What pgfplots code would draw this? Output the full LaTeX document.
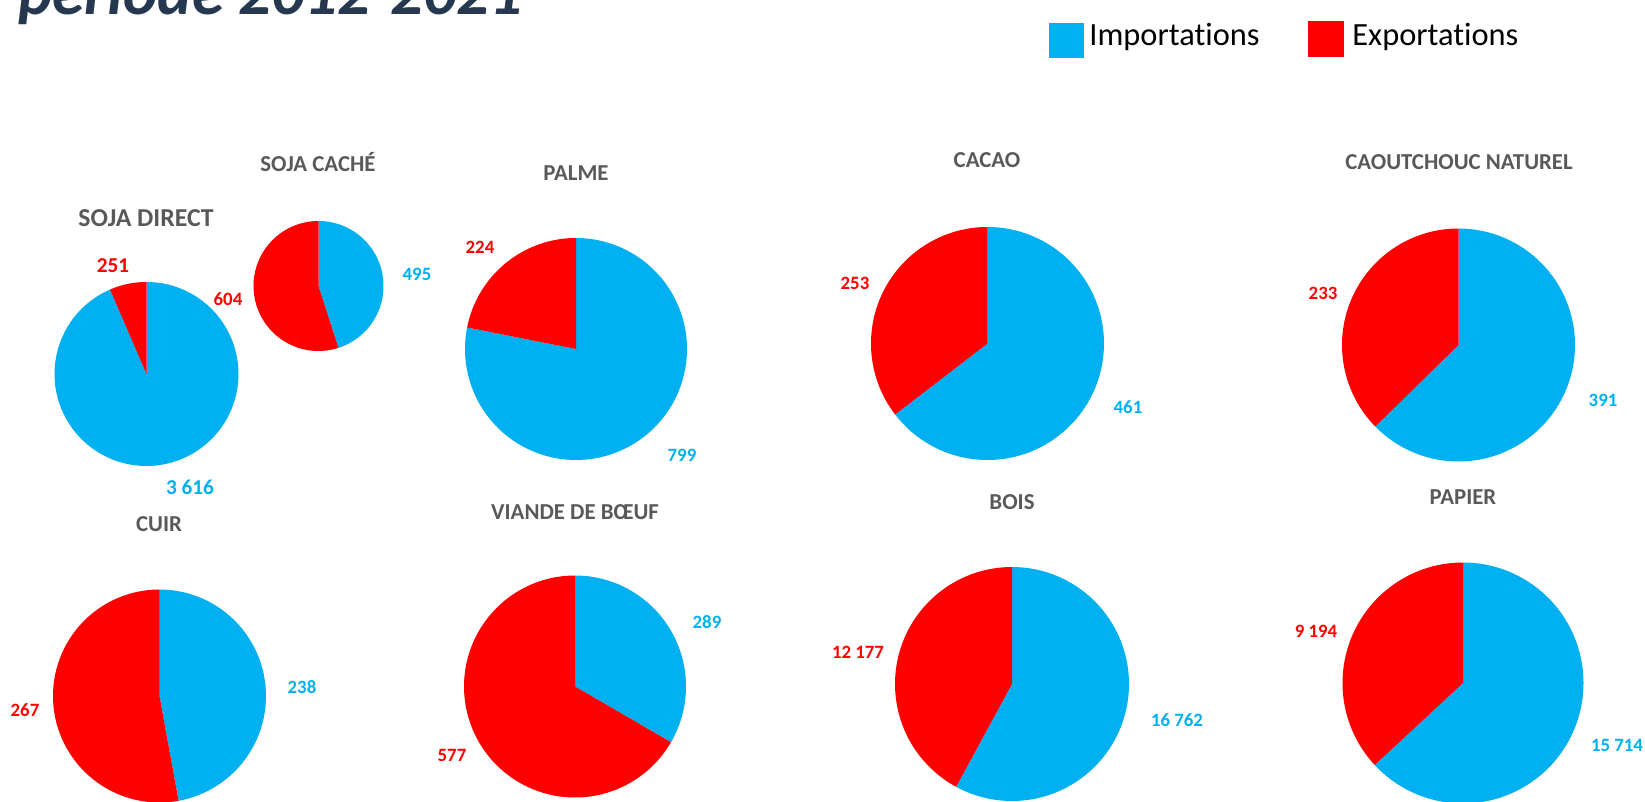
\documentclass[border=0pt]{standalone}
\usepackage{fontspec}
\setmainfont{Carlito}[Ligatures=NoCommon]
\usepackage{pgfplots}
\usepackage{pgfplotstable}
\pgfplotsset{compat=1.18}
\definecolor{impblue}{HTML}{00B0F0}
\definecolor{expred}{HTML}{FF0000}
\definecolor{ttlgray}{HTML}{595959}
\definecolor{navy}{HTML}{263850}

% imports / exports per product
\pgfplotstableread{
name imp exp
sojadirect 3616 251
sojacache 495 604
palme 799 224
cacao 461 253
caoutchouc 391 233
cuir 238 267
viande 289 577
bois 16762 12177
papier 15714 9194
}\pietable

% row, cx(px), cy(px), radius(px)
\newcommand\drawpie[4]{%
  \pgfplotstablegetelem{#1}{imp}\of\pietable \edef\vimp{\pgfplotsretval}%
  \pgfplotstablegetelem{#1}{exp}\of\pietable \edef\vexp{\pgfplotsretval}%
  \edef\angA{\fpeval{90-360*\vimp/(\vimp+\vexp)}}%
  \edef\angB{\fpeval{450-360*\vimp/(\vimp+\vexp)}}%
  \begin{axis}[at={({0.5pt*#2},{-0.5pt*#3})}, anchor=center,
      scale only axis, width={#4pt}, height={#4pt},
      xmin=-1, xmax=1, ymin=-1, ymax=1, hide axis, clip=false]
    \addplot[draw=none, fill=impblue, domain=\angA:90, samples=150]
      ({cos(x)},{sin(x)}) -- (axis cs:0,0) -- cycle;
    \addplot[draw=none, fill=expred, domain=90:\angB, samples=150]
      ({cos(x)},{sin(x)}) -- (axis cs:0,0) -- cycle;
  \end{axis}}

\begin{document}
\begin{tikzpicture}[x=0.5pt, y=-0.5pt]
  \path[use as bounding box] (0,0) rectangle (1645,802);

  % main title (cut off at the top, as in the original)
  \node[anchor=base west, inner sep=0pt, text=navy,
        font=\fontsize{32.5}{33}\selectfont\bfseries\itshape] at (18,15) {période 2012-2021};

  % legend
  \fill[impblue] (1049,23) rectangle (1084,58);
  \node[anchor=base west, inner sep=0pt, font=\fontsize{16.2}{17}\selectfont] at (1089,46) {Importations};
  \fill[expred] (1308,21) rectangle (1344,57);
  \node[anchor=base west, inner sep=0pt, font=\fontsize{16.2}{17}\selectfont] at (1352,46) {Exportations};

  % pies
  \drawpie{0}{146.5}{374}{92}
  \drawpie{1}{318.5}{286}{65}
  \drawpie{2}{576}{349}{111}
  \drawpie{3}{987.5}{343.5}{116.5}
  \drawpie{4}{1458.5}{345}{116.5}
  \drawpie{5}{159.5}{696}{106.5}
  \drawpie{6}{575}{686.5}{111}
  \drawpie{7}{1012}{684}{117}
  \drawpie{8}{1463}{683}{120.5}

  % titles
  \tikzset{ttl/.style={text=ttlgray, font=\fontsize{11.4}{12}\selectfont\bfseries, inner sep=0pt},
           lr/.style={text=expred, font=\fontsize{9.4}{10}\selectfont\bfseries, inner sep=0pt},
           lb/.style={text=impblue, font=\fontsize{9.4}{10}\selectfont\bfseries, inner sep=0pt}}
  \node[ttl, font=\fontsize{12.9}{13}\selectfont\bfseries] at (146,218) {SOJA DIRECT};
  \node[ttl] at (318,162) {SOJA CACHÉ};
  \node[ttl] at (576,173) {PALME};
  \node[ttl] at (987,160) {CACAO};
  \node[ttl] at (1459,162) {CAOUTCHOUC NATUREL};
  \node[ttl] at (159,524) {CUIR};
  \node[ttl] at (575,512) {VIANDE DE BŒUF};
  \node[ttl] at (1012,502) {BOIS};
  \node[ttl] at (1463,497) {PAPIER};

  % value labels
  \node[lr, font=\fontsize{10.6}{11}\selectfont\bfseries] at (113,266) {251};
  \node[lb, font=\fontsize{10.6}{11}\selectfont\bfseries] at (190,487) {3 616};
  \node[lr] at (228,299) {604};
  \node[lb] at (417,274) {495};
  \node[lr] at (480,247) {224};
  \node[lb] at (682,455) {799};
  \node[lr] at (855,283) {253};
  \node[lb] at (1128,407) {461};
  \node[lr] at (1323,293) {233};
  \node[lb] at (1603,400) {391};
  \node[lr] at (25,710) {267};
  \node[lb] at (302,687) {238};
  \node[lr] at (452,755) {577};
  \node[lb] at (707,622) {289};
  \node[lr] at (858,652) {12 177};
  \node[lb] at (1177,720) {16 762};
  \node[lr] at (1316,631) {9 194};
  \node[lb] at (1617,745) {15 714};
\end{tikzpicture}
\end{document}
